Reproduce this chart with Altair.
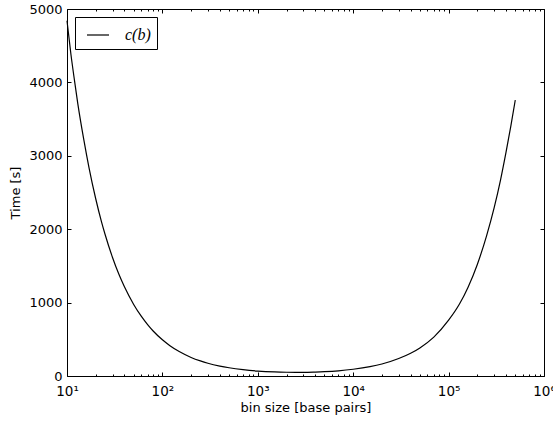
import altair as alt
import pandas as pd

# ---- data ----
bin_size = [10, 11, 12, 13, 15, 17, 20, 23, 25, 30, 35, 40, 50, 60, 70, 80, 100, 120, 150,
            200, 250, 300, 400, 500, 700, 1000, 1500, 2000, 2500, 3000, 4000, 5000, 7000,
            10000, 15000, 20000, 30000, 40000, 50000, 70000, 100000, 130000, 160000,
            200000, 250000, 300000, 350000, 400000, 450000, 500000]
time_s = [4840, 4380, 4020, 3705, 3220, 2840, 2415, 2100, 1935, 1615, 1385, 1215, 975, 815,
          700, 613, 493, 413, 333, 253, 206, 174, 135, 112, 86, 67, 55, 51, 50, 50, 54, 59,
          71, 92, 127, 163, 238, 310, 383, 530, 760, 980, 1210, 1520, 1910, 2290, 2670,
          3050, 3410, 3760]
series_name = "c(b)"

x_major = [10, 100, 1000, 10000, 100000, 1000000]
x_tick_labels = ["10¹", "10²", "10³", "10⁴", "10⁵", "10⁶"]
x_minor = [20, 30, 40, 50, 60, 70, 80, 90,
           200, 300, 400, 500, 600, 700, 800, 900,
           2000, 3000, 4000, 5000, 6000, 7000, 8000, 9000,
           20000, 30000, 40000, 50000, 60000, 70000, 80000, 90000,
           200000, 300000, 400000, 500000, 600000, 700000, 800000, 900000]
y_ticks = [0, 1000, 2000, 3000, 4000, 5000]

df = pd.DataFrame({"bin_size": bin_size, "time": time_s, "series": series_name})

W, H = 477, 367
x_scale = alt.Scale(type="log", domain=[10, 1000000])
y_scale = alt.Scale(domain=[0, 5000])
label_expr = f"{x_tick_labels}[round(log(datum.value)/LN10)-1]"

base = alt.Chart(df)

main = base.mark_line(strokeWidth=1.2, interpolate="monotone").encode(
    x=alt.X("bin_size:Q", scale=x_scale,
            axis=alt.Axis(values=x_major, labelExpr=label_expr, ticks=False, domain=False,
                          grid=False, title="bin size [base pairs]", labelPadding=8,
                          titlePadding=4, labelFlush=False, labelFontSize=13.5)),
    y=alt.Y("time:Q", scale=y_scale,
            axis=alt.Axis(values=y_ticks, format="d", ticks=False, domain=False, grid=False,
                          title="Time [s]", labelPadding=5, titlePadding=6)),
    color=alt.Color("series:N", scale=alt.Scale(range=["black"]),
                    legend=alt.Legend(title=None, orient="top-left", offset=8,
                                      padding=6, strokeColor="black", fillColor="white",
                                      cornerRadius=0, symbolType="stroke", symbolSize=484,
                                      symbolOffset=5, symbolStrokeWidth=1.2,
                                      labelFont="Liberation Serif",
                                      labelFontStyle="italic", labelFontSize=16,
                                      labelOffset=15, labelColor="black")),
)

def tick_layer(x_orient, y_orient, xvals, yvals, size):
    enc = {
        "x": alt.X("bin_size:Q", scale=x_scale,
                   axis=alt.Axis(orient=x_orient, offset=-H, values=xvals, tickSize=size,
                                 labels=False, domain=False, grid=False, title=None,
                                 tickColor="black")),
    }
    if yvals is not None:
        enc["y"] = alt.Y("time:Q", scale=y_scale,
                         axis=alt.Axis(orient=y_orient, offset=-W, values=yvals,
                                       tickSize=size, labels=False, domain=False,
                                       grid=False, title=None, tickColor="black"))
    else:
        enc["y"] = alt.Y("time:Q", scale=y_scale, axis=None)
    return base.mark_line(strokeOpacity=0).encode(**enc)

t1 = tick_layer("top", "right", x_major, y_ticks, 4)
t2 = tick_layer("bottom", "left", x_major, y_ticks, 4)
t3 = tick_layer("top", "right", x_minor, None, 2)
t4 = tick_layer("bottom", "left", x_minor, None, 2)

chart = alt.layer(main, t1, t2, t3, t4).resolve_axis(
    x="independent", y="independent"
).properties(
    width=W, height=H,
    padding={"left": 67, "top": 9, "right": 9, "bottom": 47},
    autosize=alt.AutoSizeParams(type="none"),
).configure_view(
    stroke="black", strokeWidth=1
).configure_axis(
    labelFont="DejaVu Sans", labelFontSize=13, labelColor="black",
    titleFont="DejaVu Sans", titleFontSize=13, titleColor="black", titleFontWeight="normal",
)

chart.save("out.html", embed_options={"renderer": "svg", "actions": False})
